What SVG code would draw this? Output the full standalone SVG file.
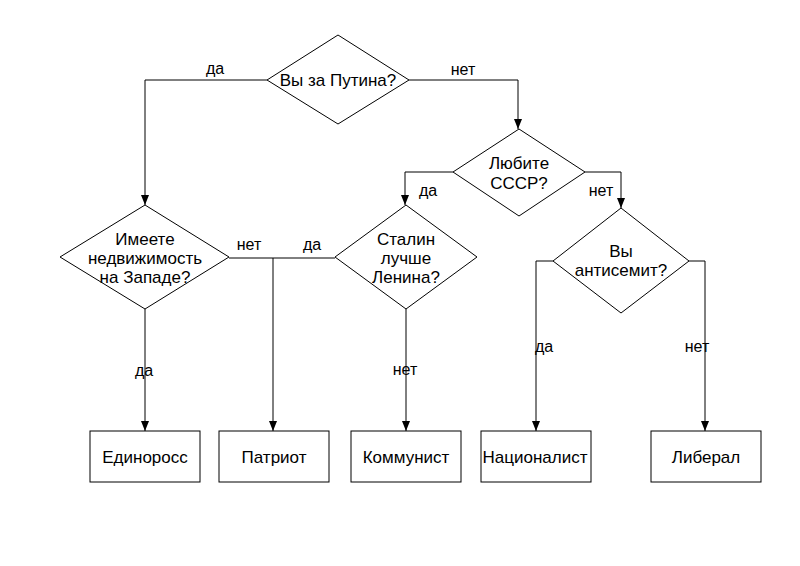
<svg xmlns="http://www.w3.org/2000/svg" width="800" height="566" viewBox="0 0 800 566">
<style>
.s{fill:#fff;stroke:#000;stroke-width:1}
.c{fill:none;stroke:#000;stroke-width:1}
text{font-family:"Liberation Sans",Arial,sans-serif;font-size:17px;fill:#000}
.t{text-anchor:middle}
.l{font-size:16px;text-anchor:middle}
</style>
<defs>
<marker id="a" markerWidth="10" markerHeight="12" refX="10" refY="4" orient="auto" markerUnits="userSpaceOnUse" viewBox="0 0 10 8">
<path d="M0,0 L10,4 L0,8 Z" fill="#000"/>
</marker>
</defs>
<rect width="800" height="566" fill="#fff"/>
<g id="connectors">
<path class="c" d="M267,80 H145 V205" marker-end="url(#a)"/>
<path class="c" d="M409,80 H518 V129" marker-end="url(#a)"/>
<path class="c" d="M453,172 H405 V205" marker-end="url(#a)"/>
<path class="c" d="M585,172 H621 V208" marker-end="url(#a)"/>
<path class="c" d="M145,309 V431" marker-end="url(#a)"/>
<path class="c" d="M229,258 H335"/>
<path class="c" d="M273,258 V431" marker-end="url(#a)"/>
<path class="c" d="M406,309 V431" marker-end="url(#a)"/>
<path class="c" d="M553,261 H536 V431" marker-end="url(#a)"/>
<path class="c" d="M689,261 H705 V431" marker-end="url(#a)"/>
<text class="l" x="215" y="74">да</text>
<text class="l" x="463" y="75">нет</text>
<text class="l" x="428" y="196">да</text>
<text class="l" x="601" y="196">нет</text>
<text class="l" x="249" y="250">нет</text>
<text class="l" x="312" y="250">да</text>
<text class="l" x="144" y="376">да</text>
<text class="l" x="405" y="375">нет</text>
<text class="l" x="544" y="352">да</text>
<text class="l" x="697" y="352">нет</text>
</g>
<g id="q1">
<path class="s" d="M338,35 L409,80 L338,124 L267,80 Z"/>
<text class="t" x="338" y="86">Вы за Путина?</text>
</g>
<g id="q2">
<path class="s" d="M145,205 L229,257 L145,309 L60,257 Z"/>
<text class="t" x="145" y="245">Имеете</text>
<text class="t" x="145" y="264">недвижимость</text>
<text class="t" x="145" y="283">на Западе?</text>
</g>
<g id="q3">
<path class="s" d="M519,129 L585,172 L519,216 L453,172 Z"/>
<text class="t" x="519" y="169">Любите</text>
<text class="t" x="519" y="189">СССР?</text>
</g>
<g id="q4">
<path class="s" d="M406,205 L477,257 L406,309 L335,257 Z"/>
<text class="t" x="406" y="245">Сталин</text>
<text class="t" x="406" y="264">лучше</text>
<text class="t" x="406" y="283">Ленина?</text>
</g>
<g id="q5">
<path class="s" d="M621,208 L689,261 L621,313 L553,261 Z"/>
<text class="t" x="621" y="257">Вы</text>
<text class="t" x="621" y="276">антисемит?</text>
</g>
<g id="b1"><rect class="s" x="90" y="431" width="110" height="51"/><text class="t" x="145" y="463">Единоросс</text></g>
<g id="b2"><rect class="s" x="219" y="431" width="110" height="51"/><text class="t" x="274" y="463">Патриот</text></g>
<g id="b3"><rect class="s" x="351" y="431" width="110" height="51"/><text class="t" x="406" y="463">Коммунист</text></g>
<g id="b4"><rect class="s" x="481" y="431" width="110" height="51"/><text class="t" x="535" y="463">Националист</text></g>
<g id="b5"><rect class="s" x="651" y="431" width="110" height="51"/><text class="t" x="706" y="463">Либерал</text></g>
</svg>
